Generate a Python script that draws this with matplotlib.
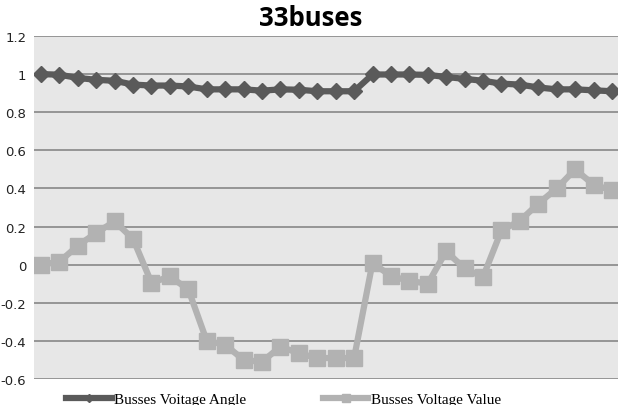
import matplotlib.pyplot as plt

# bus voltage data (32 points)
bus_no = list(range(1, 33))
voltage_angle = [1.0, 0.997, 0.98, 0.97, 0.965, 0.945, 0.94, 0.94, 0.935, 0.92,
                 0.92, 0.92, 0.913, 0.92, 0.918, 0.91, 0.91, 0.91, 0.998, 0.998,
                 0.998, 0.996, 0.985, 0.975, 0.965, 0.95, 0.945, 0.93, 0.92, 0.92,
                 0.915, 0.91]
voltage_value = [0.0, 0.015, 0.10, 0.167, 0.227, 0.135, -0.095, -0.062, -0.13, -0.40,
                 -0.42, -0.50, -0.51, -0.43, -0.465, -0.49, -0.49, -0.49, 0.01, -0.06,
                 -0.085, -0.10, 0.07, -0.02, -0.065, 0.18, 0.23, 0.32, 0.40, 0.50,
                 0.42, 0.39]
yticks = [-0.6, -0.4, -0.2, 0, 0.2, 0.4, 0.6, 0.8, 1, 1.2]
ytick_labels = ['-0.6', '-0.4', '-0.2', '0', '0.2', '0.4', '0.6', '0.8', '1', '1.2']

dark = '#5a5a5a'
light = '#b2b2b2'

fig = plt.figure(figsize=(6.18, 4.06), dpi=100)
W, H = 618, 406
ax = fig.add_axes([34 / W, 26 / H, (618 - 34) / W, (380 - 37) / H])
ax.set_facecolor('#e7e7e7')

x = [b - 1 for b in bus_no]
ax.plot(x, voltage_angle, c=dark, lw=4.5, marker='D', ms=8, mec=dark,
        label='Busses Voitage Angle', zorder=3)
ax.plot(x, voltage_value, c=light, lw=4.5, marker='s', ms=11, mec=light,
        label='Busses Voltage Value', zorder=3)

ax.set_xlim(-0.38, 31.33)
ax.set_ylim(-0.6, 1.2)
ax.set_yticks(yticks)
ax.set_yticklabels(ytick_labels, fontsize=9.5, color='#222222')
ax.set_xticks([])
ax.tick_params(left=False, pad=2)
for key, spine in ax.spines.items():
    spine.set_visible(False)
for t in yticks:
    ax.axhline(t, color='#8f8f8f', lw=1.3, zorder=1)

fig.text(311 / W, 1 - 19 / H, '33buses', ha='center', va='center',
         fontsize=18.5, fontweight='bold', family='Open Sans')

fig.legend(loc='center left', bbox_to_anchor=(66 / W, 6 / H), ncol=2,
           frameon=False, borderpad=0, borderaxespad=0, handlelength=3.0,
           handletextpad=0.15, columnspacing=5.0, markerscale=0.55,
           prop={'family': 'Liberation Serif', 'size': 11})

fig.savefig('out.png', dpi=100)
